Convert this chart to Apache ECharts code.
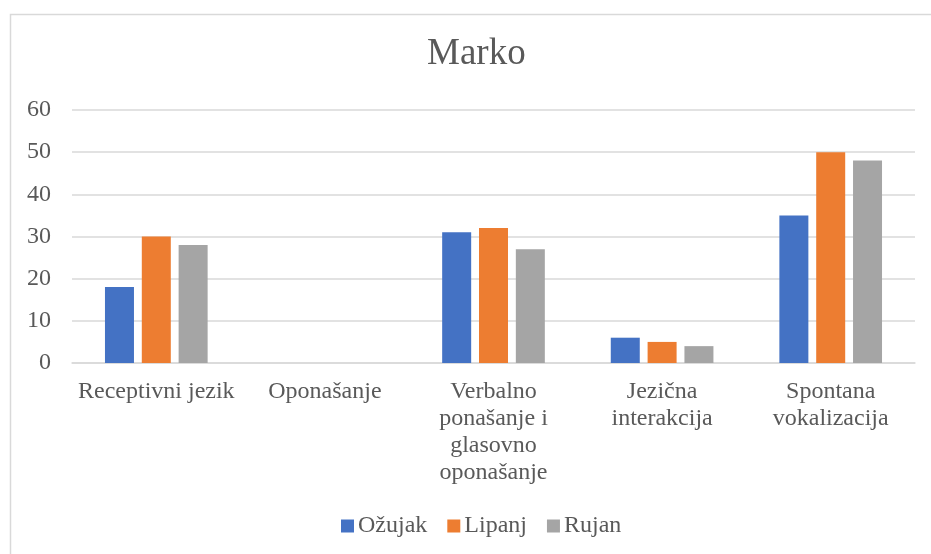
<!DOCTYPE html>
<html>
<head>
<meta charset="utf-8">
<script src="https://cdn.jsdelivr.net/npm/echarts@6/dist/echarts.min.js"></script>
<style>
  html, body { margin: 0; padding: 0; background: #fff; }
  #main { width: 931px; height: 554px; }
</style>
</head>
<body>
<div id="main"></div>
<script>
// podaci
var categories = ['Receptivni jezik', 'Oponašanje', 'Verbalno\nponašanje i\nglasovno\noponašanje', 'Jezična\ninterakcija', 'Spontana\nvokalizacija'];
var seriesNames = ['Ožujak', 'Lipanj', 'Rujan'];
var ozujak = [18, 0, 31, 6, 35];
var lipanj = [30, 0, 32, 5, 50];
var rujan = [28, 0, 27, 4, 48];

var chart = echarts.init(document.getElementById('main'));
var font = '"Liberation Serif", "Times New Roman", serif';

var option = {
  color: ['#4472C4', '#ED7D31', '#A5A5A5'],
  graphic: [{
    type: 'rect',
    shape: { x: 10.5, y: 14.5, width: 940, height: 560 },
    style: { fill: 'none', stroke: '#d9d9d9', lineWidth: 1.5 },
    silent: true
  }],
  // naslov je malo desno od sredine jer okvir ide preko desnog ruba
  title: {
    text: 'Marko',
    left: 427,
    top: 36,
    padding: 0,
    textStyle: { fontFamily: font, fontSize: 37, fontWeight: 'normal', color: '#595959' }
  },
  legend: {
    data: seriesNames,
    top: 514,
    left: 341,
    padding: 0,
    itemWidth: 13,
    itemHeight: 13,
    itemGap: 20,
    icon: 'rect',
    textStyle: { fontFamily: font, fontSize: 24, color: '#595959', padding: [0, 0, 0, -1] }
  },
  grid: { left: 72, right: 16, top: 110, bottom: 191, containLabel: false },
  xAxis: {
    type: 'category',
    data: categories,
    axisLine: { lineStyle: { color: '#d9d9d9', width: 1.5 } },
    axisTick: { show: false },
    axisLabel: {
      interval: 0,
      margin: 15,
      lineHeight: 27,
      fontFamily: font,
      fontSize: 24,
      color: '#595959'
    }
  },
  yAxis: {
    type: 'value',
    min: 0,
    max: 60,
    interval: 10,
    axisLine: { show: false },
    axisTick: { show: false },
    splitLine: { lineStyle: { color: '#d9d9d9', width: 1.5 } },
    axisLabel: { margin: 21, fontFamily: font, fontSize: 24, color: '#595959' }
  },
  series: [
    { name: seriesNames[0], type: 'bar', data: ozujak, barWidth: 29, barGap: '27%' },
    { name: seriesNames[1], type: 'bar', data: lipanj, barWidth: 29, barGap: '27%' },
    { name: seriesNames[2], type: 'bar', data: rujan, barWidth: 29, barGap: '27%' }
  ]
};

chart.setOption(option);
</script>
</body>
</html>
